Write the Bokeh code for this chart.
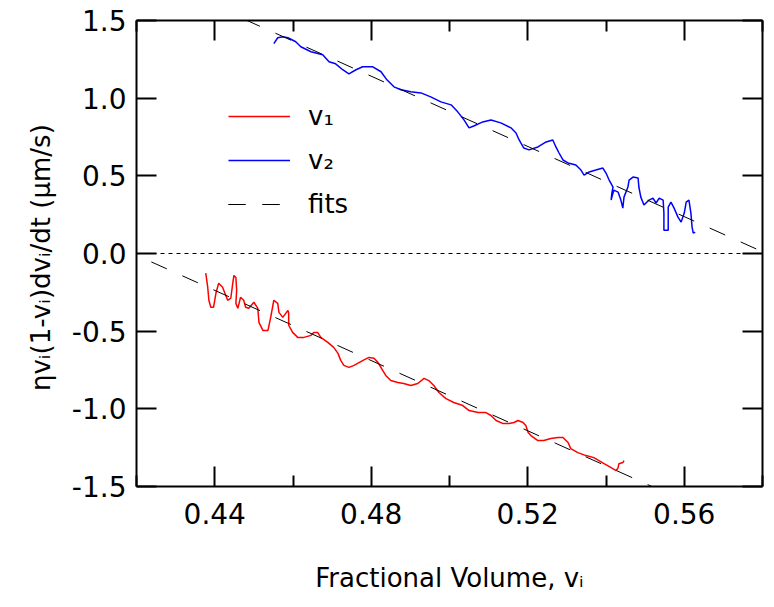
from bokeh.plotting import figure
from bokeh.models import Range1d, LinearAxis, FixedTicker, Span, Legend, LegendItem
from bokeh.embed import file_html
from bokeh.resources import INLINE

# ---- data ----
v2_x = [0.4551, 0.4561, 0.4574, 0.4587, 0.4607, 0.4620, 0.4646, 0.4676, 0.4692,
        0.4709, 0.4727, 0.4743, 0.4761, 0.4778, 0.4804, 0.4825, 0.4840, 0.4858,
        0.4876, 0.4901, 0.4927, 0.4952, 0.4978, 0.5004, 0.5021, 0.5037, 0.5050,
        0.5062, 0.5085, 0.5106, 0.5131, 0.5157, 0.5170, 0.5178, 0.5190, 0.5203,
        0.5226, 0.5247, 0.5264, 0.5272, 0.5280, 0.5290, 0.5303, 0.5323, 0.5336,
        0.5344, 0.5357, 0.5374, 0.5392, 0.5400, 0.5408, 0.5418, 0.5415, 0.5413,
        0.5420, 0.5431, 0.5438, 0.5443, 0.5446, 0.5456, 0.5459, 0.5469, 0.5482,
        0.5484, 0.5489, 0.5497, 0.5510, 0.5520, 0.5528, 0.5536, 0.5546, 0.5548,
        0.5548, 0.5559, 0.5559, 0.5566, 0.5574, 0.5584, 0.5592, 0.5600, 0.5605,
        0.5612, 0.5617, 0.5620, 0.5623, 0.5628]
v2_y = [1.351, 1.389, 1.395, 1.389, 1.363, 1.331, 1.299, 1.279, 1.234,
        1.221, 1.183, 1.157, 1.183, 1.202, 1.202, 1.170, 1.118, 1.073,
        1.054, 1.041, 1.034, 1.008, 0.976, 0.957, 0.912, 0.860, 0.809,
        0.821, 0.847, 0.860, 0.841, 0.809, 0.776, 0.731, 0.679, 0.667,
        0.686, 0.718, 0.731, 0.686, 0.647, 0.602, 0.583, 0.570, 0.537,
        0.505, 0.525, 0.537, 0.550, 0.518, 0.473, 0.428, 0.389, 0.344,
        0.408, 0.395, 0.344, 0.292, 0.363, 0.428, 0.473, 0.492, 0.486,
        0.428, 0.363, 0.312, 0.344, 0.357, 0.325, 0.357, 0.344, 0.260,
        0.150, 0.150, 0.299, 0.331, 0.292, 0.234, 0.202, 0.260, 0.331,
        0.344, 0.260, 0.170, 0.131, 0.138]

v1_x = [0.4377, 0.4382, 0.4385, 0.4390, 0.4397, 0.4403, 0.4410, 0.4420, 0.4428,
        0.4433, 0.4441, 0.4446, 0.4449, 0.4454, 0.4456, 0.4454, 0.4459, 0.4466,
        0.4474, 0.4479, 0.4487, 0.4500, 0.4510, 0.4513, 0.4523, 0.4536, 0.4543,
        0.4551, 0.4561, 0.4564, 0.4574, 0.4587, 0.4589, 0.4589, 0.4599, 0.4612,
        0.4628, 0.4646, 0.4653, 0.4663, 0.4671, 0.4689, 0.4704, 0.4715, 0.4722,
        0.4730, 0.4743, 0.4756, 0.4779, 0.4794, 0.4807, 0.4817, 0.4825, 0.4837,
        0.4850, 0.4868, 0.4883, 0.4901, 0.4919, 0.4935, 0.4947, 0.4960, 0.4973,
        0.4991, 0.5011, 0.5034, 0.5050, 0.5073, 0.5093, 0.5106, 0.5119, 0.5137,
        0.5152, 0.5165, 0.5175, 0.5188, 0.5195, 0.5201, 0.5208, 0.5226, 0.5241,
        0.5259, 0.5277, 0.5290, 0.5303, 0.5310, 0.5328, 0.5349, 0.5369, 0.5382,
        0.5395, 0.5413, 0.5426, 0.5431, 0.5433, 0.5443, 0.5446]
v1_y = [-0.127, -0.217, -0.301, -0.346, -0.346, -0.256, -0.192, -0.217, -0.269,
        -0.301, -0.288, -0.192, -0.141, -0.154, -0.237, -0.321, -0.353, -0.282,
        -0.301, -0.346, -0.353, -0.314, -0.353, -0.443, -0.495, -0.495, -0.411,
        -0.301, -0.321, -0.379, -0.411, -0.366, -0.385, -0.462, -0.508, -0.540,
        -0.540, -0.527, -0.508, -0.508, -0.540, -0.572, -0.604, -0.643, -0.688,
        -0.720, -0.733, -0.720, -0.688, -0.669, -0.675, -0.701, -0.734, -0.785,
        -0.818, -0.830, -0.837, -0.850, -0.837, -0.804, -0.818, -0.850, -0.895,
        -0.934, -0.959, -0.979, -1.011, -1.024, -1.024, -1.043, -1.075, -1.095,
        -1.095, -1.088, -1.075, -1.088, -1.108, -1.153, -1.172, -1.204, -1.204,
        -1.191, -1.185, -1.185, -1.217, -1.256, -1.282, -1.301, -1.314, -1.333,
        -1.353, -1.379, -1.398, -1.379, -1.353, -1.346, -1.333]

# linear fits: y = slope * (x - x0)
fit_slope = [-11.3, -11.3]
fit_x0 = [0.419, 0.581]
fit_x = [0.40, 0.60]

x_ticks = [0.44, 0.48, 0.52, 0.56]
x_minor = [0.42, 0.46, 0.50, 0.54, 0.58]
x_tick_labels = ["0.44", "0.48", "0.52", "0.56"]
y_ticks = [-1.5, -1.0, -0.5, 0.0, 0.5, 1.0, 1.5]
y_tick_labels = ["-1.5", "-1.0", "-0.5", "0.0", "0.5", "1.0", "1.5"]

FONT = "DejaVu Sans"

p = figure(width=774, height=607, x_range=Range1d(0.42, 0.58),
           y_range=Range1d(-1.5, 1.5), output_backend="svg",
           toolbar_location=None, x_axis_location=None, y_axis_location=None,
           min_border_left=136, min_border_right=12, min_border_top=20,
           min_border_bottom=121)
p.grid.visible = False
p.outline_line_color = None
p.background_fill_color = "white"
p.border_fill_color = "white"

def style_axis(ax, show_labels):
    ax.axis_line_width = 2
    ax.axis_line_color = "black"
    ax.major_tick_in = 20
    ax.major_tick_out = 0
    ax.minor_tick_in = 11
    ax.minor_tick_out = 0
    ax.major_tick_line_width = 2
    ax.minor_tick_line_width = 2
    ax.major_tick_line_color = "black"
    ax.minor_tick_line_color = "black"
    if show_labels:
        ax.major_label_text_font = FONT
        ax.major_label_text_font_size = "28px"
        ax.major_label_text_color = "black"
        ax.axis_label_text_font = FONT
        ax.axis_label_text_font_size = "26px"
        ax.axis_label_text_font_style = "normal"
        ax.axis_label_text_color = "black"
    else:
        ax.major_label_standoff = 0

xt = FixedTicker(ticks=x_ticks, minor_ticks=x_minor)
yt = FixedTicker(ticks=y_ticks, minor_ticks=[])
xlab = dict(zip(x_ticks, x_tick_labels))
ylab = dict(zip(y_ticks, y_tick_labels))

xb = LinearAxis(ticker=xt, axis_label="Fractional Volume, vᵢ",
                major_label_overrides=xlab)
style_axis(xb, True)
xb.major_label_standoff = 16
xb.axis_label_standoff = 36
p.add_layout(xb, "below")

yl = LinearAxis(ticker=yt, axis_label="ηvᵢ(1-vᵢ)dvᵢ/dt  (μm/s)",
                major_label_overrides=ylab)
style_axis(yl, True)
yl.major_label_standoff = 10
yl.axis_label_standoff = 13
p.add_layout(yl, "left")

xa = LinearAxis(ticker=xt, major_label_overrides={t: "" for t in x_ticks})
style_axis(xa, False)
p.add_layout(xa, "above")
yr = LinearAxis(ticker=yt, major_label_overrides={t: "" for t in y_ticks})
style_axis(yr, False)
p.add_layout(yr, "right")

p.add_layout(Span(location=0, dimension="width", line_color="black",
                  line_width=1, line_dash="4 4"))

r1 = p.line(v1_x, v1_y, line_color="#ff0000", line_width=1.5)
r2 = p.line(v2_x, v2_y, line_color="#0000ff", line_width=1.5)

fit_renderers = []
for s, x0 in zip(fit_slope, fit_x0):
    fy = [s * (x - x0) for x in fit_x]
    fit_renderers.append(p.line(fit_x, fy, line_color="black", line_width=1,
                                line_dash="17 17"))

legend = Legend(items=[LegendItem(label="v₁", renderers=[r1]),
                       LegendItem(label="v₂", renderers=[r2]),
                       LegendItem(label="fits", renderers=fit_renderers)],
                location=(92, 267), orientation="vertical")
legend.background_fill_alpha = 0
legend.border_line_color = None
legend.padding = 0
legend.margin = 0
legend.spacing = 14
legend.glyph_width = 62
legend.glyph_height = 30
legend.label_height = 30
legend.label_standoff = 18
legend.label_text_font = FONT
legend.label_text_font_size = "26px"
legend.label_text_color = "black"
p.add_layout(legend, "center")

open("out.html", "w").write(file_html(p, INLINE))
